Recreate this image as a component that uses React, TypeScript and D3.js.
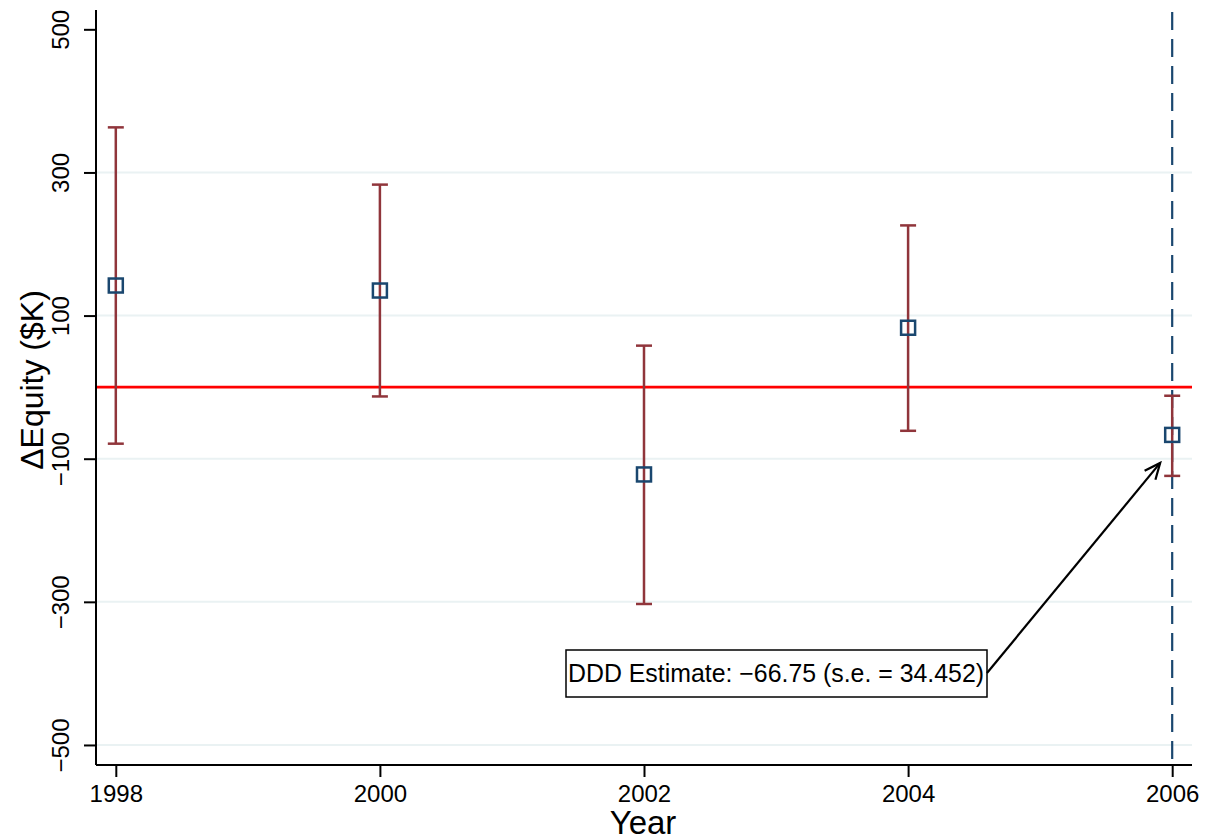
import React, { useEffect, useRef } from "react";
import * as d3 from "d3";

const years = [1998, 2000, 2002, 2004, 2006];
const estimates = [142, 135, -122, 83, -66.75];
const ciLow = [-79, -13, -303, -61, -124];
const ciHigh = [363, 283, 58, 226, -12];
const yTicks = [-500, -300, -100, 100, 300, 500];
const gridValues = [-500, -300, -100, 100, 300];
const annotation = "DDD Estimate: \u221266.75 (s.e. = 34.452)";

const App = () => {
  const svgRef = useRef<SVGSVGElement>(null);

  useEffect(() => {
    const width = 1213;
    const height = 840;
    const left = 96;
    const right = 1192;
    const top = 10;
    const bottom = 765;
    const font = "'Liberation Sans', Arial, sans-serif";
    const navy = "#1a476f";
    const maroon = "#90353b";

    const svg = d3.select(svgRef.current);
    svg.selectAll("*").remove();
    svg.attr("width", width).attr("height", height).style("font-family", font);

    const x = d3.scaleLinear().domain([1997.85, 2006.15]).range([left, right]);
    const y = d3.scaleLinear().domain([-528, 527]).range([bottom, top]);

    svg
      .append("defs")
      .append("marker")
      .attr("id", "arrow")
      .attr("viewBox", "0 0 20 20")
      .attr("refX", 18)
      .attr("refY", 10)
      .attr("markerWidth", 20)
      .attr("markerHeight", 20)
      .attr("markerUnits", "userSpaceOnUse")
      .attr("orient", "auto")
      .append("path")
      .attr("d", "M2,3 L18,10 L2,17")
      .attr("fill", "none")
      .attr("stroke", "black")
      .attr("stroke-width", 2.2);

    // grid
    svg
      .append("g")
      .selectAll("line")
      .data(gridValues)
      .join("line")
      .attr("x1", left)
      .attr("x2", right)
      .attr("y1", (d) => y(d))
      .attr("y2", (d) => y(d))
      .attr("stroke", "#eaf2f3")
      .attr("stroke-width", 2);

    // zero line
    svg
      .append("line")
      .attr("x1", left)
      .attr("x2", right)
      .attr("y1", y(0))
      .attr("y2", y(0))
      .attr("stroke", "#ff0000")
      .attr("stroke-width", 2.6);

    // dashed line at 2006
    svg
      .append("line")
      .attr("x1", x(2006))
      .attr("x2", x(2006))
      .attr("y1", top + 2)
      .attr("y2", bottom)
      .attr("stroke", navy)
      .attr("stroke-width", 2.2)
      .attr("stroke-dasharray", "18,9");

    const data = years.map((yr, i) => ({ yr, est: estimates[i], lo: ciLow[i], hi: ciHigh[i] }));

    // error bars
    const bars = svg.append("g").attr("stroke", maroon).attr("stroke-width", 2.5);
    bars
      .selectAll("line.v")
      .data(data)
      .join("line")
      .attr("class", "v")
      .attr("x1", (d) => x(d.yr))
      .attr("x2", (d) => x(d.yr))
      .attr("y1", (d) => y(d.lo))
      .attr("y2", (d) => y(d.hi));
    ["lo", "hi"].forEach((k) => {
      bars
        .selectAll(`line.${k}`)
        .data(data)
        .join("line")
        .attr("class", k)
        .attr("x1", (d) => x(d.yr) - 8)
        .attr("x2", (d) => x(d.yr) + 8)
        .attr("y1", (d: any) => y(d[k]))
        .attr("y2", (d: any) => y(d[k]));
    });

    // markers
    svg
      .append("g")
      .selectAll("rect")
      .data(data)
      .join("rect")
      .attr("x", (d) => x(d.yr) - 7)
      .attr("y", (d) => y(d.est) - 7)
      .attr("width", 14)
      .attr("height", 14)
      .attr("fill", "none")
      .attr("stroke", navy)
      .attr("stroke-width", 2.5);

    // axes
    const yAxis = svg
      .append("g")
      .attr("transform", `translate(${left},0)`)
      .call(d3.axisLeft(y).tickValues(yTicks).tickSize(12).tickFormat((d) => d3.format("d")(d as number).replace("-", "\u2212")));
    yAxis.select(".domain").attr("d", `M0,${top}V${bottom}`).attr("stroke-width", 2);
    yAxis.selectAll(".tick line").attr("stroke-width", 2);
    yAxis
      .selectAll(".tick text")
      .attr("font-size", 24)
      .attr("font-family", font)
      .attr("fill", "black")
      .attr("text-anchor", "middle")
      .attr("transform", "rotate(-90)")
      .attr("x", 0)
      .attr("y", -27)
      .attr("dy", 0);

    const xAxis = svg
      .append("g")
      .attr("transform", `translate(0,${bottom})`)
      .call(d3.axisBottom(x).tickValues(years).tickSize(12).tickFormat(d3.format("d")));
    xAxis.select(".domain").attr("d", `M${left},0H${right}`).attr("stroke-width", 2);
    xAxis.selectAll(".tick line").attr("stroke-width", 2);
    xAxis
      .selectAll(".tick text")
      .attr("font-size", 24)
      .attr("font-family", font)
      .attr("fill", "black")
      .attr("y", 37)
      .attr("dy", 0);

    // axis titles
    svg
      .append("text")
      .attr("transform", `translate(43,380) rotate(-90)`)
      .attr("text-anchor", "middle")
      .attr("font-size", 32)
      .text("\u0394Equity ($K)");
    svg
      .append("text")
      .attr("x", 643)
      .attr("y", 834)
      .attr("text-anchor", "middle")
      .attr("font-size", 33)
      .text("Year");

    // annotation
    svg
      .append("rect")
      .attr("x", 566)
      .attr("y", 650)
      .attr("width", 421)
      .attr("height", 47)
      .attr("fill", "white")
      .attr("stroke", "black")
      .attr("stroke-width", 1.5);
    svg
      .append("text")
      .attr("x", 568)
      .attr("y", 682)
      .attr("font-size", 25)
      .attr("textLength", 416)
      .attr("lengthAdjust", "spacingAndGlyphs")
      .text(annotation);
    svg
      .append("line")
      .attr("x1", 987)
      .attr("y1", 673)
      .attr("x2", x(2006) - 12)
      .attr("y2", y(estimates[4]) + 28)
      .attr("stroke", "black")
      .attr("stroke-width", 2.2)
      .attr("marker-end", "url(#arrow)");
  }, []);

  return <svg ref={svgRef} style={{ position: "absolute", left: 0, top: 0 }} />;
};

export default App;
